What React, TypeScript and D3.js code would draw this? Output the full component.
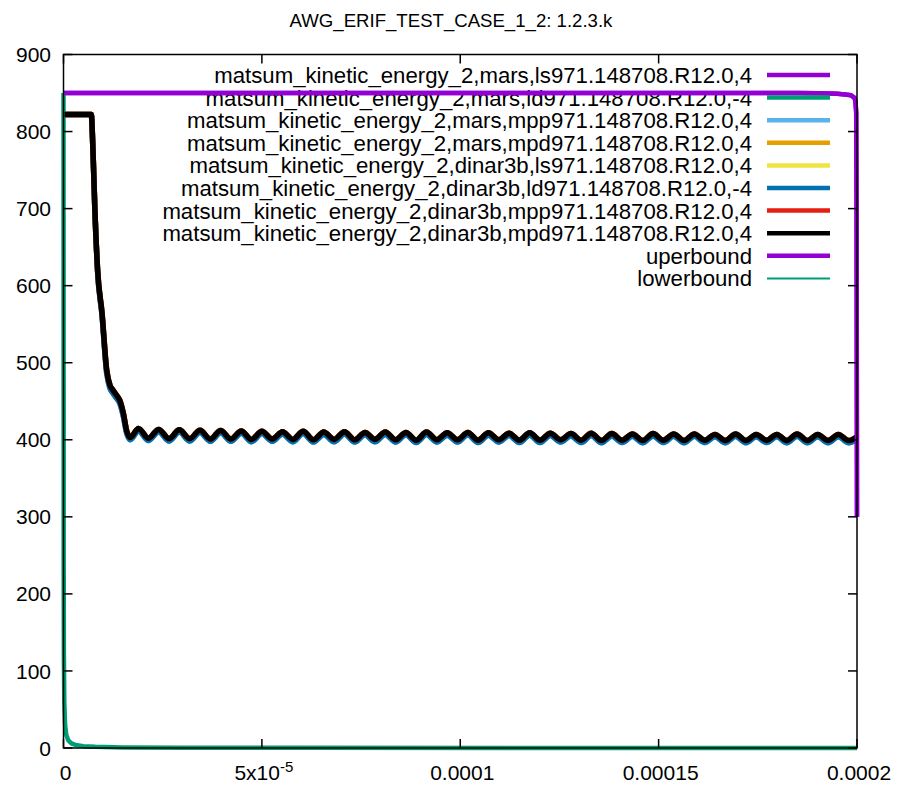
import React from "react";
import * as d3 from "d3";

// time in microseconds (axis shows seconds)
const xTickValues = [0, 50, 100, 150, 200];
const xTickLabels = ["0", "5x10|-5", "0.0001", "0.00015", "0.0002"];
const yTickValues = [0, 100, 200, 300, 400, 500, 600, 700, 800, 900];

const legendLabels = [
  "matsum_kinetic_energy_2,mars,ls971.148708.R12.0,4",
  "matsum_kinetic_energy_2,mars,ld971.148708.R12.0,-4",
  "matsum_kinetic_energy_2,mars,mpp971.148708.R12.0,4",
  "matsum_kinetic_energy_2,mars,mpd971.148708.R12.0,4",
  "matsum_kinetic_energy_2,dinar3b,ls971.148708.R12.0,4",
  "matsum_kinetic_energy_2,dinar3b,ld971.148708.R12.0,-4",
  "matsum_kinetic_energy_2,dinar3b,mpp971.148708.R12.0,4",
  "matsum_kinetic_energy_2,dinar3b,mpd971.148708.R12.0,4",
  "uperbound",
  "lowerbound",
];
const seriesColors = [
  "#9400D3", "#009E73", "#56B4E9", "#E69F00", "#F0E442",
  "#0072B2", "#E51E10", "#000000", "#9400D3", "#009E73",
];

// purple: high plateau collapsing at the end
const upperTimes = [0, 185, 190, 193, 195, 197, 198.5, 199.3, 199.6, 199.8, 199.9, 200];
const upperValues = [850, 850, 849.8, 849.5, 849, 848.2, 847, 844, 840, 825, 700, 300];

// green: fast decay near t = 0
const decayTimes = [0, 0.02, 0.05, 0.1, 0.2, 0.4, 0.7, 1.2, 2, 3, 5, 8, 15, 30, 60, 120, 200];
const decayValues = [850, 600, 240, 120, 60, 30, 17, 10, 6, 4, 2.4, 1.5, 0.8, 0.4, 0.2, 0.1, 0.06];

// main curves: initial drop
const dropTimes = [0, 7.0, 7.4, 7.9, 8.6, 9.7, 10.9, 11.7, 12.4, 13.2, 14.2, 15.1, 15.9];
const blackDrop = [822, 822, 780, 700, 620, 565, 490, 471, 465, 459, 451, 434, 412];
const blueDrop = [822, 822, 780, 700, 618, 562, 486, 467, 461, 455, 447, 430, 409];

// main curves: oscillation (trough, peak, trough, ...)
const oscTimes = [
  16.8, 18.9, 21.4, 24.0, 26.6, 29.2, 31.8, 34.4, 37.0, 39.6,
  42.2, 44.8, 47.4, 50.0, 52.6, 55.2, 57.8, 60.4, 63.0, 65.6,
  68.2, 70.8, 73.4, 76.0, 78.5, 81.1, 83.7, 86.3, 88.9, 91.5,
  94.1, 96.7, 99.3, 101.9, 104.5, 107.1, 109.7, 112.3, 114.9, 117.5,
  120.1, 122.7, 125.3, 127.9, 130.5, 133.0, 135.6, 138.2, 140.8, 143.4,
  146.0, 148.6, 151.2, 153.8, 156.4, 159.0, 161.6, 164.2, 166.8, 169.4,
  172.0, 174.6, 177.2, 179.8, 182.3, 184.9, 187.5, 190.1, 192.7, 195.3,
  197.9, 200.0,
];
const blackOsc = [
  403, 414.5, 402, 413.5, 401.5, 413, 401.5, 412.5, 401, 412,
  401, 411.5, 400.5, 411, 401, 410.5, 400.5, 411, 400, 410,
  400.5, 410.5, 400, 409.5, 400.5, 410, 400, 409.5, 399.5, 410,
  400, 409, 400, 409.5, 399.5, 409, 400, 408.5, 399.5, 409,
  399.5, 408.5, 400, 408, 399.5, 408.5, 399, 408, 399.5, 407.5,
  399, 408, 399.5, 407.5, 399, 407.5, 399.5, 407, 399, 407.5,
  399, 407, 399.5, 407, 399, 407.5, 399, 407, 399, 407,
  399, 404,
];
const blueOsc = [
  400, 411.5, 399, 410.5, 398.5, 410, 398.5, 409.5, 398, 409,
  398, 408.5, 397.5, 408, 398, 407.5, 397.5, 408, 397, 407,
  397.5, 407.5, 397, 406.5, 397.5, 407, 397, 406.5, 396.5, 407,
  397, 406, 397, 406.5, 396.5, 406, 397, 405.5, 396.5, 406,
  396.5, 405.5, 397, 405, 396.5, 405.5, 396, 405, 396.5, 404.5,
  396, 405, 396.5, 404.5, 396, 404.5, 396.5, 404, 396, 404.5,
  396, 404, 396.5, 404, 396, 404.5, 396, 404, 396, 404,
  396, 401,
];

const W = 901;
const H = 787;
const L = 63.5, R = 857, T = 54.5, B = 748;
const FONT = "'Liberation Sans', Arial, sans-serif";

type Pt = [number, number];
const zip = (ts: number[], vs: number[]): Pt[] => ts.map((t, i) => [t, vs[i]]);

export default function App() {
  const x = d3.scaleLinear().domain([0, 200]).range([L, R]);
  const y = d3.scaleLinear().domain([0, 900]).range([B, T]);
  const line = d3
    .line<Pt>()
    .x((d) => x(d[0]))
    .y((d) => y(d[1]))
    .curve(d3.curveMonotoneX);
  const lineLin = d3
    .line<Pt>()
    .x((d) => x(d[0]))
    .y((d) => y(d[1]));

  const blackPts = zip(dropTimes, blackDrop).concat(zip(oscTimes, blackOsc));
  const bluePts = zip(dropTimes, blueDrop).concat(zip(oscTimes, blueOsc));
  const upperPts = zip(upperTimes, upperValues);
  const decayPts = zip(decayTimes, decayValues);

  const curves = [
    { d: lineLin(upperPts), c: seriesColors[0], w: 4.5 },
    { d: lineLin(decayPts), c: seriesColors[1], w: 4.5 },
    { d: line(bluePts), c: seriesColors[2], w: 5.5 },
    { d: line(blackPts), c: seriesColors[3], w: 5.5 },
    { d: line(blackPts), c: seriesColors[4], w: 5.5 },
    { d: line(bluePts), c: seriesColors[5], w: 5.5 },
    { d: line(blackPts), c: seriesColors[6], w: 5.5 },
    { d: line(blackPts), c: seriesColors[7], w: 5.5 },
    { d: lineLin(upperPts), c: seriesColors[8], w: 4.5 },
    { d: lineLin(decayPts), c: seriesColors[9], w: 2 },
  ];

  const legendTop = 75;
  const legendStep = 22.6;

  return (
    <svg
      width={W}
      height={H}
      style={{ position: "absolute", left: 0, top: 0, background: "#fff" }}
      fontFamily={FONT}
    >
      <rect x={0} y={0} width={W} height={H} fill="#fff" />
      <text x={451} y={27} textAnchor="middle" fontSize={18.6} fill="#000">
        AWG_ERIF_TEST_CASE_1_2: 1.2.3.k
      </text>

      {/* legend text */}
      {legendLabels.map((lab, i) => (
        <text
          key={"lt" + i}
          x={752}
          y={legendTop + i * legendStep}
          dy="0.36em"
          textAnchor="end"
          fontSize={22.2}
          fill="#000"
        >
          {lab}
        </text>
      ))}

      {/* curves */}
      <g fill="none" strokeLinejoin="round" strokeLinecap="butt">
        {curves.map((cv, i) => (
          <path key={"c" + i} d={cv.d || ""} stroke={cv.c} strokeWidth={cv.w} />
        ))}
      </g>

      {/* legend samples */}
      {legendLabels.map((_, i) => (
        <line
          key={"ls" + i}
          x1={767}
          x2={830}
          y1={legendTop + i * legendStep}
          y2={legendTop + i * legendStep}
          stroke={seriesColors[i]}
          strokeWidth={i === 9 ? 2 : 4.5}
        />
      ))}

      {/* frame */}
      <rect x={L} y={T} width={R - L} height={B - T} fill="none" stroke="#000" strokeWidth={1.5} />

      {/* y ticks */}
      {yTickValues.map((v) => (
        <g key={"y" + v}>
          <line x1={L} x2={L + 9} y1={y(v)} y2={y(v)} stroke="#000" strokeWidth={1.5} />
          <line x1={R} x2={R - 9} y1={y(v)} y2={y(v)} stroke="#000" strokeWidth={1.5} />
          <text x={51} y={y(v)} dy="0.36em" textAnchor="end" fontSize={21} fill="#000">
            {String(v)}
          </text>
        </g>
      ))}

      {/* x ticks */}
      {xTickValues.map((v, i) => {
        const parts = xTickLabels[i].split("|");
        return (
          <g key={"x" + v}>
            <line x1={x(v)} x2={x(v)} y1={B} y2={B - 9} stroke="#000" strokeWidth={1.5} />
            <line x1={x(v)} x2={x(v)} y1={T} y2={T + 9} stroke="#000" strokeWidth={1.5} />
            <text x={x(v) + 2} y={780} textAnchor="middle" fontSize={21} fill="#000">
              {parts[0]}
              {parts[1] ? (
                <tspan dy={-8} fontSize={15}>
                  {parts[1]}
                </tspan>
              ) : null}
            </text>
          </g>
        );
      })}
    </svg>
  );
}
